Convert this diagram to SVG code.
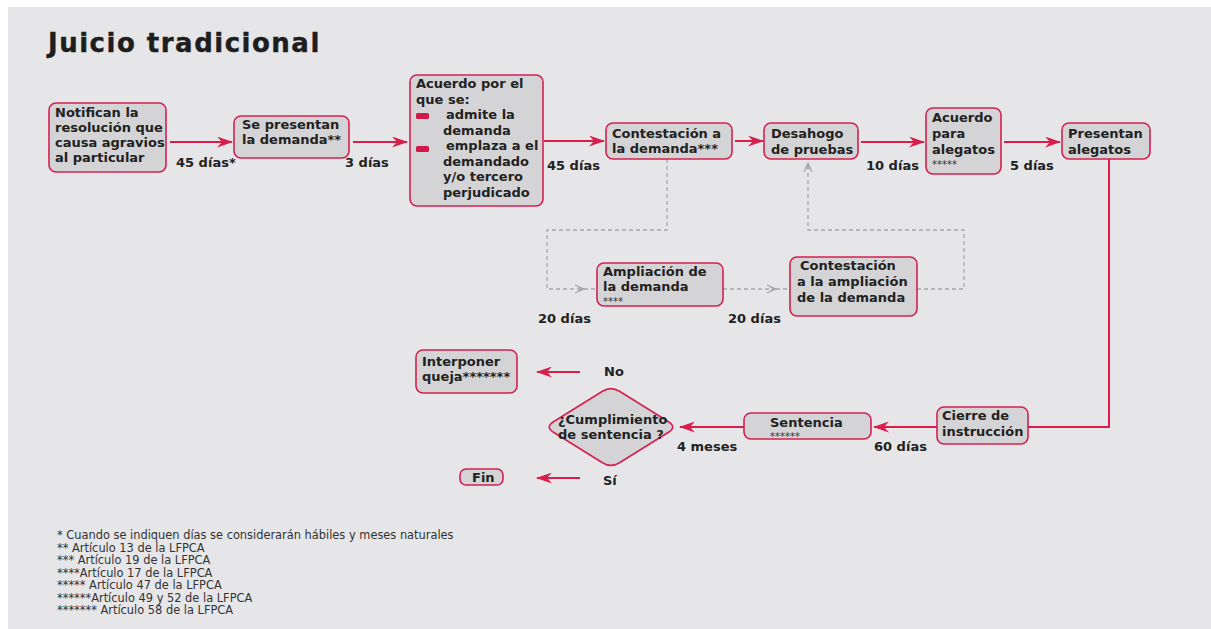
<svg xmlns="http://www.w3.org/2000/svg" width="1211" height="629" viewBox="0 0 1211 629">
<defs>
<style>
.bg{fill:#e6e6e8}
.box{fill:#d4d4d6;stroke:#d42050;stroke-width:1.6}
.t{font-family:"DejaVu Sans",Verdana,sans-serif;font-weight:bold;font-size:13px;fill:#222}
.star{font-family:"DejaVu Sans",Verdana,sans-serif;font-size:10px;fill:#333}
.lbl{font-family:"DejaVu Sans",Verdana,sans-serif;font-weight:bold;font-size:13px;fill:#222}
.note{font-family:"DejaVu Sans",Verdana,sans-serif;font-size:11.4px;fill:#333}
.title{font-family:"DejaVu Sans",Verdana,sans-serif;font-weight:bold;font-size:26px;letter-spacing:1.5px;fill:#1e1e1e;stroke:#1e1e1e;stroke-width:0.4}
.arr{fill:none;stroke:#d81e4c;stroke-width:2}
.dash{fill:none;stroke:#a8a8aa;stroke-width:1.3;stroke-dasharray:4 3}
.bul{fill:#d0184a}
</style>
<marker id="ah" viewBox="0 0 16 11" refX="15" refY="5.5" markerWidth="16" markerHeight="11" markerUnits="userSpaceOnUse" orient="auto">
<path d="M0,0 L16,5.5 L0,11 L5,5.5 Z" fill="#d81e4c"/>
</marker>
<marker id="chev" viewBox="0 0 12 10" refX="10" refY="5" markerWidth="12" markerHeight="10" markerUnits="userSpaceOnUse" orient="auto">
<path d="M1,1 L10,5 L1,9 M4,3 L8,5 L4,7" fill="none" stroke="#a8a8aa" stroke-width="1.2"/>
</marker>
</defs>
<rect x="0" y="0" width="1211" height="629" fill="#ffffff"/>
<rect class="bg" x="8" y="7" width="1203" height="622"/>
<text class="title" x="48" y="52">Juicio tradicional</text>

<g id="connectors">
<path class="arr" d="M170,142 L232,142" marker-end="url(#ah)"/>
<path class="arr" d="M353,142 L407,142" marker-end="url(#ah)"/>
<path class="arr" d="M544,141 L604,141" marker-end="url(#ah)"/>
<path class="arr" d="M735,141 L763,141" marker-end="url(#ah)"/>
<path class="arr" d="M861,142 L924,142" marker-end="url(#ah)"/>
<path class="arr" d="M1004,142 L1060,142" marker-end="url(#ah)"/>
<path class="arr" d="M1109,159 L1109,427 L1028,427"/>
<path class="arr" d="M937,427 L874,427" marker-end="url(#ah)"/>
<path class="arr" d="M744,427 L680,427" marker-end="url(#ah)"/>
<path class="arr" d="M580,372 L537,372" marker-end="url(#ah)"/>
<path class="arr" d="M580,478 L537,478" marker-end="url(#ah)"/>
<path class="dash" d="M667,159 L667,230 L547,230 L547,289 L584,289" marker-end="url(#chev)"/>
<path class="dash" d="M584,289 L597,289"/>
<path class="dash" d="M723,289 L776,289" marker-end="url(#chev)"/>
<path class="dash" d="M776,289 L790,289"/>
<path class="dash" d="M917,289 L964,289 L964,230 L808,230 L808,163" marker-end="url(#chev)"/>
</g>

<g id="n1">
<rect class="box" x="49" y="103" width="117" height="69" rx="7"/>
<text class="t" x="55" y="117"><tspan x="55">Notifican la</tspan><tspan x="55" dy="15">resolución que</tspan><tspan x="55" dy="15">causa agravios</tspan><tspan x="55" dy="15">al particular</tspan></text>
</g>
<text class="lbl" x="176" y="167">45 días*</text>

<g id="n2">
<rect class="box" x="234" y="116" width="115" height="42" rx="7"/>
<text class="t" x="242" y="129"><tspan x="242">Se presentan</tspan><tspan x="242" dy="15">la demanda**</tspan></text>
</g>
<text class="lbl" x="345" y="167">3 días</text>

<g id="n3">
<rect class="box" x="410" y="75" width="133" height="131" rx="7"/>
<text class="t"><tspan x="416" y="88">Acuerdo por el</tspan><tspan x="416" y="104">que se:</tspan><tspan x="446" y="119">admite la</tspan><tspan x="443" y="135">demanda</tspan><tspan x="446" y="150">emplaza a el</tspan><tspan x="443" y="166">demandado</tspan><tspan x="443" y="181">y/o tercero</tspan><tspan x="443" y="197">perjudicado</tspan></text>
<rect class="bul" x="416" y="113" width="13" height="6" rx="1.5"/>
<rect class="bul" x="416" y="146" width="13" height="6" rx="1.5"/>
</g>
<text class="lbl" x="547" y="170">45 días</text>

<g id="n4">
<rect class="box" x="606" y="123" width="126" height="36" rx="7"/>
<text class="t"><tspan x="612" y="138">Contestación a</tspan><tspan x="612" y="153">la demanda***</tspan></text>
</g>

<g id="n5">
<rect class="box" x="764" y="123" width="94" height="36" rx="7"/>
<text class="t"><tspan x="771" y="138">Desahogo</tspan><tspan x="771" y="154">de pruebas</tspan></text>
</g>
<text class="lbl" x="866" y="170">10 días</text>

<g id="n6">
<rect class="box" x="926" y="108" width="75" height="66" rx="7"/>
<text class="t"><tspan x="932" y="122">Acuerdo</tspan><tspan x="932" y="138">para</tspan><tspan x="932" y="154">alegatos</tspan></text>
<text class="star" x="932" y="168">*****</text>
</g>
<text class="lbl" x="1010" y="170">5 días</text>

<g id="n7">
<rect class="box" x="1062" y="123" width="88" height="36" rx="7"/>
<text class="t"><tspan x="1068" y="138">Presentan</tspan><tspan x="1068" y="154">alegatos</tspan></text>
</g>

<g id="n8">
<rect class="box" x="597" y="263" width="126" height="43" rx="7"/>
<text class="t"><tspan x="603" y="276">Ampliación de</tspan><tspan x="603" y="291">la demanda</tspan></text>
<text class="star" x="603" y="305">****</text>
</g>
<text class="lbl" x="538" y="323">20 días</text>

<g id="n9">
<rect class="box" x="790" y="257" width="127" height="59" rx="7"/>
<text class="t"><tspan x="800" y="270">Contestación</tspan><tspan x="797" y="286">a la ampliación</tspan><tspan x="797" y="302">de la demanda</tspan></text>
</g>
<text class="lbl" x="728" y="323">20 días</text>

<g id="n10">
<rect class="box" x="937" y="407" width="91" height="37" rx="7"/>
<text class="t"><tspan x="942" y="420">Cierre de</tspan><tspan x="942" y="436">instrucción</tspan></text>
</g>
<text class="lbl" x="874" y="451">60 días</text>

<g id="n11">
<rect class="box" x="744" y="413" width="127" height="26" rx="7"/>
<text class="t" x="770" y="427">Sentencia</text>
<text class="star" x="770" y="440">******</text>
</g>
<text class="lbl" x="677" y="451">4 meses</text>

<g id="n12">
<path class="box" d="M553.5,421.7 L602.5,391.3 Q611,386 619.5,391.3 L668.5,421.7 Q677,427 668.5,432.3 L619.5,462.7 Q611,468 602.5,462.7 L553.5,432.3 Q545,427 553.5,421.7 Z"/>
<text class="t"><tspan x="558" y="424">¿Cumplimiento</tspan><tspan x="558" y="439">de sentencia ?</tspan></text>
</g>
<text class="lbl" x="604" y="376">No</text>
<text class="lbl" x="603" y="485">Sí</text>

<g id="n13">
<rect class="box" x="416" y="350" width="101" height="43" rx="7"/>
<text class="t"><tspan x="422" y="366">Interponer</tspan><tspan x="422" y="381">queja*******</tspan></text>
</g>

<g id="n14">
<rect class="box" x="460" y="469" width="43" height="16" rx="6"/>
<text class="t" x="472" y="482">Fin</text>
</g>

<g id="notes">
<text class="note" x="57" y="539">* Cuando se indiquen días se considerarán hábiles y meses naturales</text>
<text class="note" x="57" y="551.5">** Artículo 13 de la LFPCA</text>
<text class="note" x="57" y="564">*** Artículo 19 de la LFPCA</text>
<text class="note" x="57" y="576.5">****Artículo 17 de la LFPCA</text>
<text class="note" x="57" y="589">***** Artículo 47 de la LFPCA</text>
<text class="note" x="57" y="601.5">******Artículo 49 y 52 de la LFPCA</text>
<text class="note" x="57" y="614">******* Artículo 58 de la LFPCA</text>
</g>
</svg>
